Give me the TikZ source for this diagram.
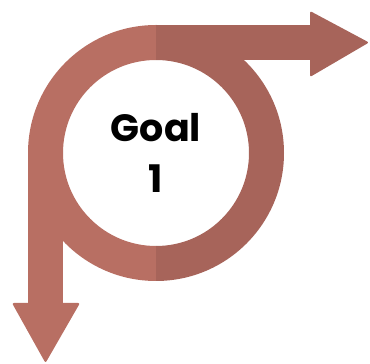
\documentclass[tikz,border=0pt]{standalone}
\usepackage{fontspec}
\setmainfont{Poppins}
\usepackage{xcolor}
\usetikzlibrary{math}
\definecolor{ringlight}{RGB}{184,111,99}
\definecolor{ringdark}{RGB}{167,100,90}

\begin{document}
\begin{tikzpicture}[x=1pt,y=1pt]
\tikzmath{
\R=128;
\r=93;
}
\useasboundingbox (0,0) rectangle (370,364);
\coordinate (c) at (156,211);

\begin{scope}
% left half of the ring and the arrow going down
\fill[ringlight,even odd rule] (c) ++(90:\R) arc (90:270:\R) -- ++(0,{\R-\r}) arc (270:90:\r) -- cycle;
\fill[ringlight] (28,211) rectangle (63,61);
\fill[ringlight,rounded corners=2pt] (12,61) -- (45.5,1) -- (80,61) -- cycle;
\end{scope}

\begin{scope}
% right half of the ring and the arrow going right
\fill[ringdark] (c) ++(90:\R) arc (90:-90:\R) -- ++(0,{\R-\r}) arc (-90:90:\r) -- cycle;
\fill[ringdark] (156,304) rectangle (310,339);
\fill[ringdark,rounded corners=2pt] (310,353) -- (369,321.5) -- (310,287) -- cycle;
\end{scope}

\node[font=\fontsize{38}{51}\selectfont\bfseries,align=center] (goal) at (c) {Goal\\1};
\end{tikzpicture}
\end{document}
